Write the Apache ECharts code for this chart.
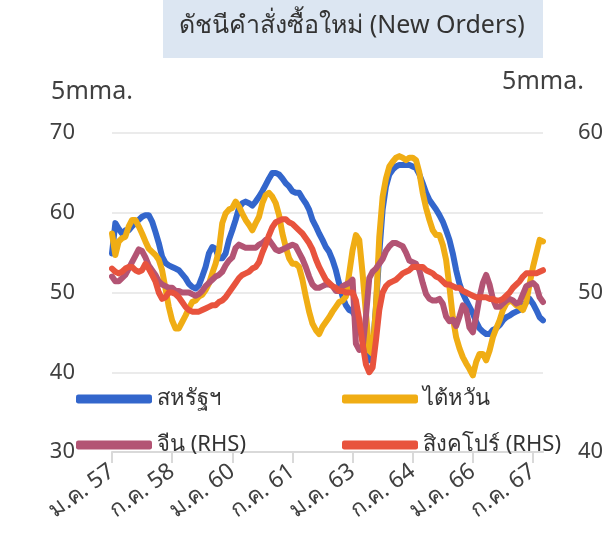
<!DOCTYPE html>
<html>
<head>
<meta charset="utf-8">
<script src="https://cdn.jsdelivr.net/npm/echarts@6/dist/echarts.min.js"></script>
<style>
  html, body { margin: 0; padding: 0; background: #fff; }
  #chart { width: 610px; height: 534px; }
</style>
</head>
<body>
<div id="chart"></div>
<script>
// monthly, ม.ค. 57 (Jan 2014) .. ต.ค. 67 (Oct 2024)
const thaiMonths = ['ม.ค.', 'ก.พ.', 'มี.ค.', 'เม.ย.', 'พ.ค.', 'มิ.ย.', 'ก.ค.', 'ส.ค.', 'ก.ย.', 'ต.ค.', 'พ.ย.', 'ธ.ค.'];
const months = [];
for (let i = 0; i < 130; i++) {
  months.push(thaiMonths[i % 12] + ' ' + (57 + Math.floor(i / 12)));
}

// left axis
const usa = [
  54.9, 58.7, 58.0, 57.4, 57.8, 57.8, 58.3, 58.7, 59.1, 59.5,
  59.7, 59.7, 58.9, 57.6, 56.2, 54.5, 53.7, 53.4, 53.2, 53.0,
  52.8, 52.3, 51.8, 51.1, 50.7, 50.5, 50.9, 52.0, 53.2, 54.9,
  55.7, 55.5, 54.3, 54.3, 54.9, 56.6, 57.8, 59.1, 60.6, 61.2,
  61.4, 61.2, 60.9, 61.4, 62.0, 62.7, 63.5, 64.3, 65.0, 65.0,
  64.8, 64.3, 63.7, 63.3, 62.7, 62.5, 62.5, 61.8, 61.2, 60.4,
  59.1, 58.3, 57.4, 56.6, 55.7, 55.1, 54.1, 52.8, 51.1, 49.5,
  48.4, 47.8, 47.6, 46.9, 45.7, 44.0, 42.3, 41.5, 42.7, 48.2,
  54.9, 60.4, 63.3, 64.8, 65.4, 65.8, 66.0, 66.0, 66.0, 66.0,
  65.8, 65.6, 64.8, 63.7, 62.5, 61.6, 61.0, 60.4, 59.7, 58.9,
  57.8, 56.6, 54.9, 52.8, 51.1, 49.9, 49.0, 48.2, 47.4, 46.3,
  45.5, 45.1, 44.8, 44.8, 45.3, 45.5, 45.9, 46.5, 46.9, 47.1,
  47.4, 47.6, 47.8, 48.2, 48.8, 49.2, 48.6, 47.8, 46.9, 46.5
];
const taiwan = [
  57.4, 54.7, 56.4, 56.8, 57.0, 58.3, 59.1, 59.1, 58.3, 57.4,
  56.4, 55.5, 55.1, 54.7, 54.1, 52.8, 50.5, 48.2, 46.5, 45.5,
  45.5, 46.3, 47.1, 48.0, 48.8, 49.0, 49.5, 49.7, 50.3, 51.1,
  52.4, 53.6, 55.3, 58.7, 59.9, 60.4, 60.6, 61.4, 60.8, 59.9,
  59.1, 58.5, 57.8, 58.7, 59.5, 61.2, 62.2, 62.5, 62.0, 61.2,
  59.7, 57.4, 55.7, 54.3, 53.6, 53.6, 53.2, 51.6, 49.5, 47.6,
  46.1, 45.3, 44.8, 45.7, 46.3, 46.9, 47.6, 48.2, 48.8, 49.0,
  49.5, 52.4, 55.3, 57.2, 56.6, 52.4, 47.4, 42.7, 42.3, 48.2,
  57.0, 62.0, 64.3, 65.8, 66.4, 66.9, 67.1, 66.9, 66.6, 66.9,
  66.9, 66.6, 65.0, 62.5, 60.6, 59.1, 57.8, 57.2, 57.2, 56.0,
  54.1, 50.7, 46.9, 44.4, 43.0, 41.9, 41.1, 40.4, 39.6, 41.3,
  42.3, 42.3, 41.5, 42.7, 44.4, 45.5, 46.5, 47.8, 48.6, 49.0,
  48.8, 48.4, 48.2, 47.8, 48.8, 51.1, 53.2, 54.9, 56.6, 56.4
];
// right axis (RHS)
const china = [
  51.0, 50.7, 50.7, 50.9, 51.1, 51.5, 51.9, 52.3, 52.7, 52.6,
  52.2, 51.7, 51.4, 51.1, 50.7, 50.5, 50.4, 50.3, 50.3, 50.1,
  50.1, 50.0, 50.0, 50.0, 49.9, 49.8, 49.9, 50.1, 50.4, 50.6,
  50.8, 51.0, 51.1, 51.3, 51.7, 52.0, 52.2, 52.8, 53.0, 52.9,
  52.8, 52.8, 52.8, 52.8, 53.0, 53.1, 53.3, 53.3, 53.0, 52.7,
  52.6, 52.7, 52.8, 52.9, 53.0, 52.9, 52.5, 52.1, 51.6, 51.0,
  50.5, 50.3, 50.3, 50.4, 50.5, 50.5, 50.4, 50.1, 50.1, 50.4,
  50.5, 50.6, 50.8, 46.8, 46.4, 46.5, 48.5, 50.9, 51.3, 51.5,
  51.8, 52.1, 52.6, 52.9, 53.1, 53.1, 53.0, 52.9, 52.5, 52.0,
  51.9, 51.8, 51.4, 50.6, 49.9, 49.6, 49.5, 49.5, 49.6, 49.3,
  48.5, 48.2, 48.3, 47.9, 48.5, 49.2, 48.9, 47.8, 47.5, 48.5,
  49.7, 50.6, 51.1, 50.5, 49.6, 49.1, 49.1, 49.3, 49.5, 49.6,
  49.5, 49.3, 49.4, 49.9, 50.4, 50.5, 50.6, 50.4, 49.7, 49.4
];
const singapore = [
  51.5, 51.3, 51.2, 51.3, 51.5, 51.6, 51.6, 51.4, 51.3, 51.4,
  51.8, 51.5, 51.1, 50.7, 50.0, 49.6, 49.7, 50.0, 50.0, 49.9,
  49.7, 49.4, 49.1, 48.9, 48.8, 48.8, 48.8, 48.9, 49.0, 49.1,
  49.2, 49.2, 49.4, 49.5, 49.7, 50.0, 50.3, 50.6, 50.9, 51.1,
  51.2, 51.3, 51.5, 51.6, 51.9, 52.5, 53.0, 53.6, 54.1, 54.4,
  54.5, 54.6, 54.6, 54.4, 54.3, 54.1, 53.9, 53.7, 53.4, 53.1,
  52.7, 52.1, 51.6, 51.2, 50.8, 50.6, 50.4, 50.3, 50.1, 50.1,
  50.0, 50.0, 50.0, 49.5, 48.3, 46.8, 45.5, 45.0, 45.3, 47.0,
  48.9, 50.0, 50.4, 50.6, 50.7, 50.8, 51.0, 51.2, 51.3, 51.4,
  51.6, 51.6, 51.6, 51.6, 51.4, 51.3, 51.2, 51.0, 50.9, 50.7,
  50.5, 50.5, 50.4, 50.3, 50.3, 50.1, 50.0, 49.9, 49.8, 49.7,
  49.7, 49.7, 49.7, 49.6, 49.6, 49.5, 49.5, 49.6, 49.8, 50.0,
  50.3, 50.5, 50.7, 51.0, 51.2, 51.2, 51.2, 51.2, 51.3, 51.4
];

const seriesNames = ['สหรัฐฯ', 'ไต้หวัน', 'จีน (RHS)', 'สิงคโปร์ (RHS)'];
const colors = ['#3366cc', '#f0ad14', '#b35474', '#e8533d'];

const FONT = '"Noto Sans", "DejaVu Sans", sans-serif';
const txt = '#404040';

const chart = echarts.init(document.getElementById('chart'));

function legendAt(i, left, top) {
  return {
    data: [seriesNames[i]],
    left: left, top: top,
    padding: 0,
    icon: 'roundRect',
    itemWidth: 76, itemHeight: 9,
    itemGap: 4,
    textStyle: { fontFamily: FONT, fontSize: 22, color: '#333' }
  };
}

chart.setOption({
  animation: false,
  color: colors,
  textStyle: { fontFamily: FONT },
  grid: { left: 112, right: 67, top: 133, bottom: 82 },
  legend: [
    legendAt(0, 76, 388),
    legendAt(1, 342, 388),
    legendAt(2, 76, 434),
    legendAt(3, 342, 434)
  ],
  graphic: [
    { type: 'rect', left: 163, top: 0, shape: { width: 380, height: 58 },
      style: { fill: '#dce6f2' }, z: 0 },
    { type: 'text', x: 352, y: 26, z: 1,
      style: { text: 'ดัชนีคำสั่งซื้อใหม่ (New Orders)', fill: '#333',
        font: '25px ' + FONT, textAlign: 'center', textVerticalAlign: 'middle' } },
    { type: 'text', x: 92, y: 92,
      style: { text: '5mma.', fill: txt, font: '25px ' + FONT,
        textAlign: 'center', textVerticalAlign: 'middle' } },
    { type: 'text', x: 543, y: 82,
      style: { text: '5mma.', fill: txt, font: '25px ' + FONT,
        textAlign: 'center', textVerticalAlign: 'middle' } }
  ],
  xAxis: {
    type: 'category',
    data: months,
    boundaryGap: false,
    axisLine: { lineStyle: { color: '#d9d9d9', width: 2 } },
    axisTick: {
      interval: (i) => i % 18 === 0,
      length: 11,
      lineStyle: { color: '#d9d9d9', width: 2 }
    },
    axisLabel: {
      interval: (i) => i % 18 === 0,
      rotate: 36,
      margin: 17,
      fontSize: 23,
      color: txt
    }
  },
  yAxis: [
    {
      type: 'value', min: 30, max: 70, interval: 10,
      axisLine: { show: false }, axisTick: { show: false },
      axisLabel: { fontSize: 22, color: txt, margin: 37 },
      splitLine: { lineStyle: { color: '#ebebeb', width: 2 } }
    },
    {
      type: 'value', min: 40, max: 60, interval: 10,
      axisLine: { show: false }, axisTick: { show: false },
      axisLabel: { fontSize: 22, color: txt, margin: 35 },
      splitLine: { show: false }
    }
  ],
  series: [
    { name: seriesNames[0], type: 'line', yAxisIndex: 0, data: usa },
    { name: seriesNames[1], type: 'line', yAxisIndex: 0, data: taiwan },
    { name: seriesNames[2], type: 'line', yAxisIndex: 1, data: china },
    { name: seriesNames[3], type: 'line', yAxisIndex: 1, data: singapore }
  ].map((s, i) => Object.assign(s, {
    showSymbol: false,
    symbol: 'none',
    lineStyle: { width: 6, color: colors[i], cap: 'round', join: 'round' },
    itemStyle: { color: colors[i] }
  }))
});
</script>
</body>
</html>
